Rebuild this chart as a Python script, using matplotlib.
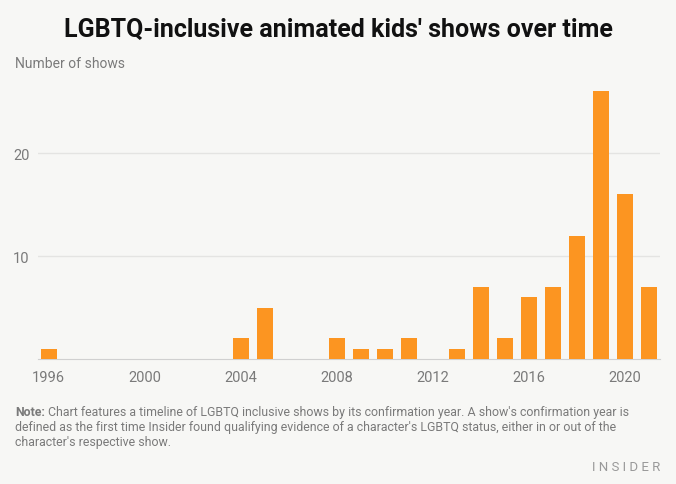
import matplotlib.pyplot as plt

# === Data ===
years = [1996, 2004, 2005, 2008, 2009, 2010, 2011, 2013, 2014, 2015,
         2016, 2017, 2018, 2019, 2020, 2021]
shows = [1, 2, 5, 2, 1, 1, 2, 1, 7, 2, 6, 7, 12, 26, 16, 7]
x_ticks = [1996, 2000, 2004, 2008, 2012, 2016, 2020]
y_ticks = [10, 20]

bg = "#f7f7f5"
bar_color = "#fc9521"
grey = "#7a7a7a"

plt.rcParams["font.family"] = ["Roboto", "DejaVu Sans"]

fig = plt.figure(figsize=(6.76, 4.85), dpi=100, facecolor=bg)
ax = fig.add_axes([38 / 676, 1 - 360 / 485, 622 / 676, 283 / 485], facecolor=bg)

ax.bar(years, shows, width=0.68, color=bar_color, zorder=3)

ax.set_xlim(1995.55, 2021.45)
ax.set_ylim(0, 27.5)
ax.set_xticks(x_ticks)
ax.set_yticks(y_ticks)
ax.tick_params(axis="both", length=0, colors=grey, labelsize=10.5)
ax.tick_params(axis="x", pad=8)
ax.tick_params(axis="y", pad=6)
ax.grid(axis="y", color="#e4e4e2", linewidth=1, zorder=0)
for side in ["top", "right", "left"]:
    ax.spines[side].set_visible(False)
ax.spines["bottom"].set_color("#d0d0d0")

# Titles and notes
fig.text(0.5, 1 - 30 / 485, "LGBTQ-inclusive animated kids' shows over time",
         ha="center", va="center", fontsize=18, fontweight="bold", color="#111111")
fig.text(15 / 676, 1 - 64 / 485, "Number of shows", ha="left", va="center",
         fontsize=10, color=grey)

note_lines = [
    "Chart features a timeline of LGBTQ inclusive shows by its confirmation year. A show's confirmation year is",
    "defined as the first time Insider found qualifying evidence of a character's LGBTQ status, either in or out of the",
    "character's respective show.",
]
note_x = 15 / 676
note_y = [413, 428, 443]
note_size = 8.9

# "Note:" label in bold, then the rest of the first line right after it
label = fig.text(note_x, 1 - note_y[0] / 485, "Note:", ha="left", va="center",
                 fontsize=note_size, color=grey, fontweight="bold")
fig.canvas.draw()
bbox = label.get_window_extent(fig.canvas.get_renderer())
label_end = bbox.x1 / fig.bbox.width + 3 / 676

fig.text(label_end, 1 - note_y[0] / 485, note_lines[0], ha="left", va="center",
         fontsize=note_size, color=grey)
for line, y in zip(note_lines[1:], note_y[1:]):
    fig.text(note_x, 1 - y / 485, line, ha="left", va="center",
             fontsize=note_size, color=grey)

fig.text(660 / 676, 1 - 468 / 485, "I N S I D E R", ha="right", va="center",
         fontsize=9.5, color="#999999")

fig.savefig("out.png", dpi=100, facecolor=bg)
